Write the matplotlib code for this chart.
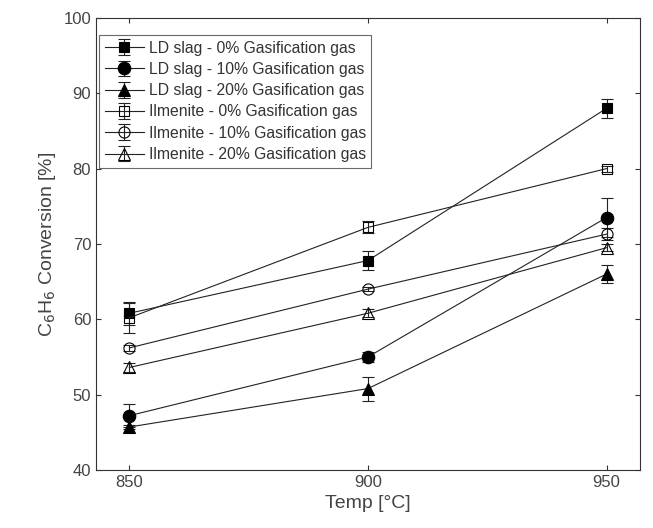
import numpy as np
import matplotlib.pyplot as plt

plt.rcParams['font.family'] = ['Liberation Sans', 'DejaVu Sans']

temps = [850, 900, 950]

labels = [
    "LD slag - 0% Gasification gas",
    "LD slag - 10% Gasification gas",
    "LD slag - 20% Gasification gas",
    "Ilmenite - 0% Gasification gas",
    "Ilmenite - 10% Gasification gas",
    "Ilmenite - 20% Gasification gas",
]

ld_0 = [60.8, 67.8, 88.0]
ld_0_err = [1.5, 1.2, 1.3]
ld_10 = [47.2, 55.0, 73.5]
ld_10_err = [1.5, 0.7, 2.6]
ld_20 = [45.7, 50.8, 66.0]
ld_20_err = [0.3, 1.6, 1.2]
il_0 = [60.2, 72.2, 80.0]
il_0_err = [2.0, 0.8, 0.4]
il_10 = [56.2, 64.0, 71.3]
il_10_err = [0.4, 0.3, 0.8]
il_20 = [53.6, 60.8, 69.5]
il_20_err = [0.6, 0.5, 0.5]

series = [ld_0, ld_10, ld_20, il_0, il_10, il_20]
errors = [ld_0_err, ld_10_err, ld_20_err, il_0_err, il_10_err, il_20_err]
markers = ["s", "o", "^", "s", "o", "^"]
filled = [True, True, True, False, False, False]
sizes = [7, 9, 9, 7, 8, 8]

fig, ax = plt.subplots(figsize=(6.53, 5.28), dpi=100)
fig.subplots_adjust(left=0.147, right=0.98, top=0.966, bottom=0.11)

for y, e, m, f, s, lab in zip(series, errors, markers, filled, sizes, labels):
    ax.errorbar(temps, y, yerr=e, color="#222222", marker=m, markersize=s,
                markerfacecolor="black" if f else "none", markeredgecolor="black",
                markeredgewidth=0.8, linewidth=0.8, elinewidth=0.8, capsize=4,
                label=lab)

ax.set_xlim(843, 957)
ax.set_ylim(40, 100)
ax.set_xticks(temps)
ax.set_yticks(np.arange(40, 101, 10))
ax.tick_params(direction="in", top=True, right=True, labelsize=12, colors="#333333",
               labelcolor="#444444")
for sp in ax.spines.values():
    sp.set_color("#333333")
    sp.set_linewidth(0.8)

ax.set_xlabel("Temp [°C]", fontsize=14, color="#444444")
ax.set_ylabel("C$_6$H$_6$ Conversion [%]", fontsize=14, color="#444444")

leg = ax.legend(loc="upper left", bbox_to_anchor=(0.006, 0.962), fontsize=11.3,
                frameon=True, fancybox=False, edgecolor="#444444",
                handlelength=2.5, handletextpad=0.3, borderpad=0.35,
                labelspacing=0.4, borderaxespad=0.0)
leg.get_frame().set_linewidth(0.8)
for t in leg.get_texts():
    t.set_color("#333333")

plt.savefig("out.png", dpi=100)
